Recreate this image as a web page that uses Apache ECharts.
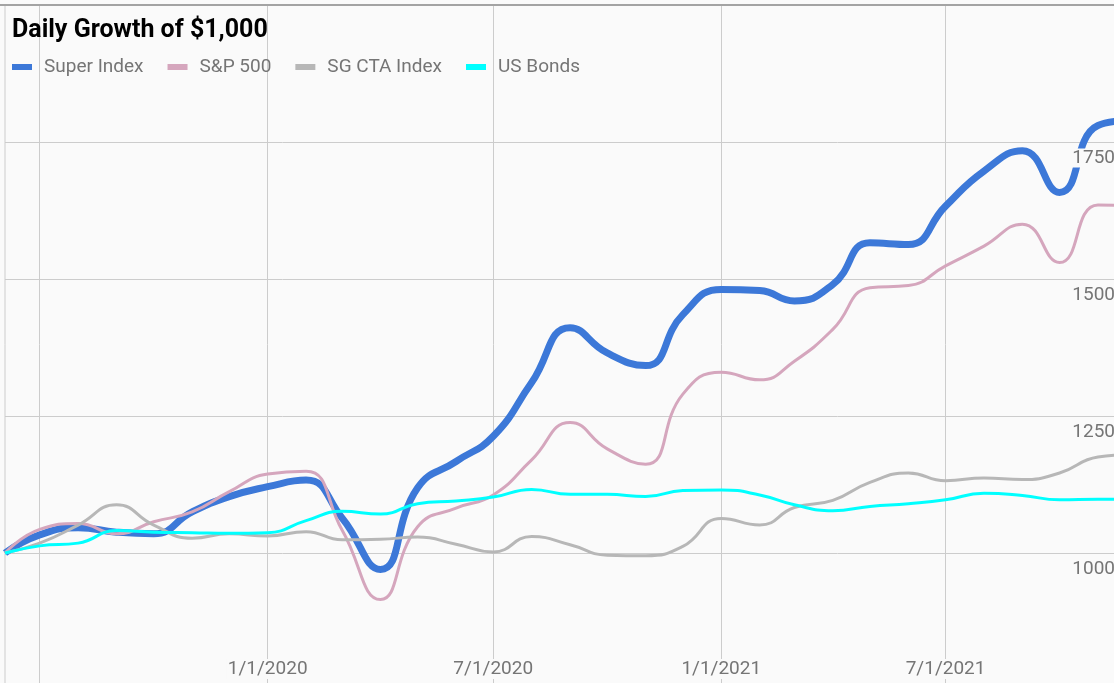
<!DOCTYPE html>
<html>
<head>
<meta charset="utf-8">
<script src="https://cdn.jsdelivr.net/npm/echarts@6/dist/echarts.min.js"></script>
<style>
html,body{margin:0;padding:0;background:#fafafa;}
#chart{width:1114px;height:683px;}
</style>
</head>
<body>
<div id="chart"></div>
<script>
const dates = ['2019-06-03','2019-07-01','2019-08-01','2019-09-01','2019-10-01','2019-11-01','2019-12-01',
  '2020-01-01','2020-02-01','2020-03-01','2020-04-01','2020-05-01','2020-06-01','2020-07-01','2020-08-01',
  '2020-09-01','2020-10-01','2020-11-01','2020-12-01','2021-01-01','2021-02-01','2021-03-01','2021-04-01',
  '2021-05-01','2021-06-01','2021-07-01','2021-08-01','2021-09-01','2021-10-01','2021-11-01','2021-12-01'];
const superIndex = [1000,1033,1046,1038,1035,1075,1103,1121,1133,1064,970,1119,1167,1213,1311,1411,1365,1342,1435,1481,1479,1460,1490,1566,1563,1633,1697,1734,1658,1780,1790];
const sp500 = [1000,1043,1054,1035,1057,1075,1112,1144,1149,1042,915,1048,1082,1106,1170,1238,1190,1162,1290,1330,1316,1350,1408,1484,1488,1524,1560,1600,1530,1635,1634];
const sgCta = [1000,1018,1051,1088,1051,1027,1035,1031,1039,1024,1025,1029,1016,1002,1030,1015,996,995,1012,1063,1051,1083,1096,1129,1146,1132,1137,1134,1146,1175,1180];
const usBonds = [1000,1013,1018,1041,1038,1037,1036,1037,1059,1076,1071,1090,1095,1102,1116,1107,1107,1103,1114,1115,1106,1088,1077,1085,1090,1097,1109,1105,1097,1098,1098];
const gridDates = ['2019-07-01','2020-01-01','2020-07-01','2021-01-01','2021-07-01'];
const labelDates = ['2020-01-01','2020-07-01','2021-01-01','2021-07-01'];
const seriesNames = ['Super Index','S&P 500','SG CTA Index','US Bonds'];
const xStart = '2019-06-03';
const xEnd = '2021-11-22';

function ts(s){ const p = s.split('-'); return new Date(+p[0], +p[1]-1, +p[2]).getTime(); }
function pairs(vals){ return dates.map((d,i)=>[ts(d), vals[i]]); }
function fmtDate(v){ const d = new Date(v); return (d.getMonth()+1)+'/'+d.getDate()+'/'+d.getFullYear(); }

const FONT = 'Roboto';
const chart = echarts.init(document.getElementById('chart'));
chart.setOption({
  backgroundColor: '#fafafa',
  animation: false,
  textStyle: { fontFamily: FONT },
  title: {
    text: 'Daily Growth of $1,000',
    left: 12, top: 16, padding: 0,
    textStyle: { fontFamily: FONT, fontSize: 25, fontWeight: 'bold', color: '#000', lineHeight: 30 }
  },
  legend: {
    data: seriesNames,
    left: 12, top: 56, padding: 0,
    icon: 'rect', itemWidth: 20, itemHeight: 6, itemGap: 24,
    textStyle: { fontFamily: FONT, fontSize: 19, color: '#757575', padding: [0,0,0,7], lineHeight: 22 }
  },
  graphic: [{
    type: 'line', z: 100,
    shape: { x1: 0, y1: 5, x2: 1114, y2: 5 },
    style: { stroke: '#a3a3a3', lineWidth: 2 }
  }],
  grid: {
    left: 5, top: 5, right: -10, bottom: -7,
    outerBoundsMode: 'none', containLabel: false,
    show: true, borderColor: '#cccccc', borderWidth: 1, backgroundColor: 'transparent'
  },
  xAxis: [{
    type: 'value', min: ts(xStart), max: ts(xEnd), z: 0,
    axisLine: { show: false },
    axisTick: { show: false, customValues: gridDates.map(ts) },
    axisLabel: { show: false, customValues: gridDates.map(ts) },
    splitLine: { show: true, lineStyle: { color: '#cccccc', width: 1 } }
  }, {
    type: 'value', min: ts(xStart), max: ts(xEnd), z: 10, position: 'bottom', offset: 0,
    axisLine: { show: false },
    axisTick: { show: false, customValues: labelDates.map(ts) },
    splitLine: { show: false },
    axisLabel: {
      show: true, inside: true, margin: 11,
      customValues: labelDates.map(ts),
      formatter: fmtDate,
      fontFamily: FONT, fontSize: 19, color: '#757575', lineHeight: 20,
      backgroundColor: '#fafafa', padding: [0,1]
    }
  }],
  yAxis: [{
    type: 'value', min: 750, max: 2000, interval: 250, position: 'right', z: 0,
    axisLine: { show: false }, axisTick: { show: false }, axisLabel: { show: false },
    splitLine: { show: true, lineStyle: { color: '#cccccc', width: 1 } }
  }, {
    type: 'value', min: 750, max: 2000, interval: 250, position: 'right', z: 10, offset: 0,
    axisLine: { show: false }, axisTick: { show: false }, splitLine: { show: false },
    axisLabel: {
      inside: true, margin: 8, showMinLabel: false, showMaxLabel: false,
      verticalAlign: 'top',
      formatter: v => '{s| }\n{t|' + v + '}',
      rich: {
        s: { fontSize: 6, lineHeight: 6 },
        t: { fontFamily: FONT, fontSize: 19, lineHeight: 20, color: '#757575', backgroundColor: '#fafafa', padding: [0,1] }
      }
    }
  }],
  series: [
    { name: seriesNames[0], type: 'line', data: pairs(superIndex), smooth: true, showSymbol: false,
      color: '#3c78d8', lineStyle: { width: 7, color: '#3c78d8' } },
    { name: seriesNames[1], type: 'line', data: pairs(sp500), smooth: true, showSymbol: false,
      color: '#d5a6bd', lineStyle: { width: 3, color: '#d5a6bd' } },
    { name: seriesNames[2], type: 'line', data: pairs(sgCta), smooth: true, showSymbol: false,
      color: '#b7b7b7', lineStyle: { width: 3, color: '#b7b7b7' } },
    { name: seriesNames[3], type: 'line', data: pairs(usBonds), smooth: true, showSymbol: false,
      color: '#00ffff', lineStyle: { width: 3, color: '#00ffff' } }
  ]
});
</script>
</body>
</html>
